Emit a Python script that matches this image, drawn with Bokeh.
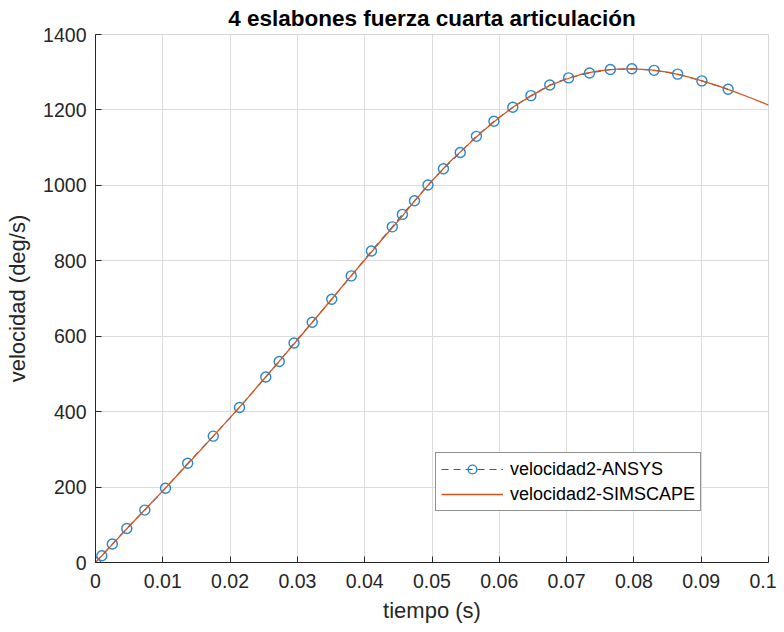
from bokeh.plotting import figure
from bokeh.models import Legend, LegendItem, FixedTicker, Range1d, ColumnDataSource
from bokeh.embed import file_html
from bokeh.resources import INLINE

# ANSYS samples (time s, velocity deg/s)
t_ansys = [0.0, 0.00094, 0.0025, 0.00465, 0.00733, 0.0104, 0.0137, 0.0175, 0.0214,
           0.0253, 0.0273, 0.0295, 0.0322, 0.0351, 0.0380, 0.0410, 0.0441, 0.0456,
           0.0474, 0.0494, 0.0517, 0.0542, 0.0566, 0.0592, 0.0620, 0.0647, 0.0675,
           0.0703, 0.0734, 0.0765, 0.0797, 0.0830, 0.0865, 0.0901, 0.0940]
v_ansys = [0, 18, 49, 90, 139, 197, 263, 335, 411,
           492, 533, 582, 637, 698, 760, 826, 890, 923,
           959, 1001, 1044, 1087, 1130, 1170, 1207, 1238, 1266,
           1285, 1298, 1307, 1309, 1305, 1295, 1277, 1255]

# SIMSCAPE curve
t_sim = [0.0, 0.0025, 0.005, 0.0075, 0.01, 0.0125, 0.015, 0.0175, 0.02, 0.0225,
         0.025, 0.0275, 0.03, 0.0325, 0.035, 0.0375, 0.04, 0.0425, 0.045, 0.0475,
         0.05, 0.0525, 0.055, 0.0575, 0.06, 0.0625, 0.065, 0.0675, 0.07, 0.0725,
         0.075, 0.0775, 0.08, 0.0825, 0.085, 0.0875, 0.09, 0.0925, 0.095, 0.0975, 0.1]
v_sim = [0, 48, 96, 143, 190, 238, 286, 335, 384, 434,
         486, 538, 590, 643, 696, 750, 802, 855, 906, 960,
         1012, 1060, 1102, 1143, 1180, 1213, 1240, 1265, 1282, 1296,
         1304, 1308, 1309, 1306, 1300, 1290, 1278, 1264, 1248, 1231, 1213]

x_ticks = [0, 0.01, 0.02, 0.03, 0.04, 0.05, 0.06, 0.07, 0.08, 0.09, 0.1]
x_tick_labels = ["0", "0.01", "0.02", "0.03", "0.04", "0.05", "0.06", "0.07", "0.08", "0.09", "0.1"]
y_ticks = [0, 200, 400, 600, 800, 1000, 1200, 1400]

BLUE = "#0072BD"
ORANGE = "#D95319"
FONT = "Liberation Sans"
AX = "#262626"

p = figure(width=776, height=628, output_backend="svg", toolbar_location=None,
           x_range=Range1d(0, 0.1), y_range=Range1d(0, 1400),
           min_border_left=95, min_border_right=8, min_border_top=33, min_border_bottom=66)
p.outline_line_color = "#d6d6d6"
p.outline_line_width = 1

p.title.text = "4 eslabones fuerza cuarta articulación"
p.title.align = "center"
p.title.text_font = FONT
p.title.text_font_size = "22.5px"
p.title.text_font_style = "bold"
p.title.text_color = "#000000"
p.title.offset = 0
p.title.standoff = 7

for ax in (p.xaxis[0], p.yaxis[0]):
    ax.axis_line_color = AX
    ax.major_tick_line_color = AX
    ax.major_tick_in = 6
    ax.major_tick_out = 0
    ax.minor_tick_line_color = None
    ax.major_label_text_font = FONT
    ax.major_label_text_font_size = "19.5px"
    ax.major_label_text_color = AX
    ax.axis_label_text_font = FONT
    ax.axis_label_text_font_size = "22px"
    ax.axis_label_text_font_style = "normal"
    ax.axis_label_text_color = AX

p.xaxis.ticker = FixedTicker(ticks=x_ticks)
p.xaxis.major_label_overrides = {t: l for t, l in zip(x_ticks, x_tick_labels)}
p.xaxis.axis_label = "tiempo (s)"
p.xaxis.major_label_standoff = 11
p.xaxis.axis_label_standoff = 7
p.yaxis.ticker = FixedTicker(ticks=y_ticks)
p.yaxis.axis_label = "velocidad (deg/s)"
p.yaxis.major_label_standoff = 9
p.yaxis.axis_label_standoff = 10

p.xgrid.grid_line_color = "#dcdcdc"
p.ygrid.grid_line_color = "#dcdcdc"
p.xgrid.ticker = FixedTicker(ticks=x_ticks)
p.ygrid.ticker = FixedTicker(ticks=y_ticks)

src_a = ColumnDataSource(dict(t=t_ansys, v=v_ansys))
src_s = ColumnDataSource(dict(t=t_sim, v=v_sim))

la = p.line("t", "v", source=src_a, line_color=BLUE, line_width=1.1, line_dash="7 5")
sa = p.scatter("t", "v", source=src_a, marker="circle", size=10, fill_color=None,
               line_color="#2a86c8", line_width=1.4)
ls = p.line("t", "v", source=src_s, line_color=ORANGE, line_width=1.3)

legend = Legend(items=[LegendItem(label="velocidad2-ANSYS", renderers=[la, sa]),
                       LegendItem(label="velocidad2-SIMSCAPE", renderers=[ls])],
                location=(340, 51))
legend.label_text_font = FONT
legend.label_text_font_size = "18px"
legend.label_text_color = "#000000"
legend.glyph_width = 62
legend.glyph_height = 22
legend.label_height = 22
legend.spacing = 3
legend.padding = 5
legend.margin = 0
legend.label_standoff = 7
legend.border_line_color = AX
legend.border_line_width = 1
legend.background_fill_color = "white"
legend.background_fill_alpha = 1
p.add_layout(legend, "center")

open("out.html", "w").write(file_html(p, INLINE))
